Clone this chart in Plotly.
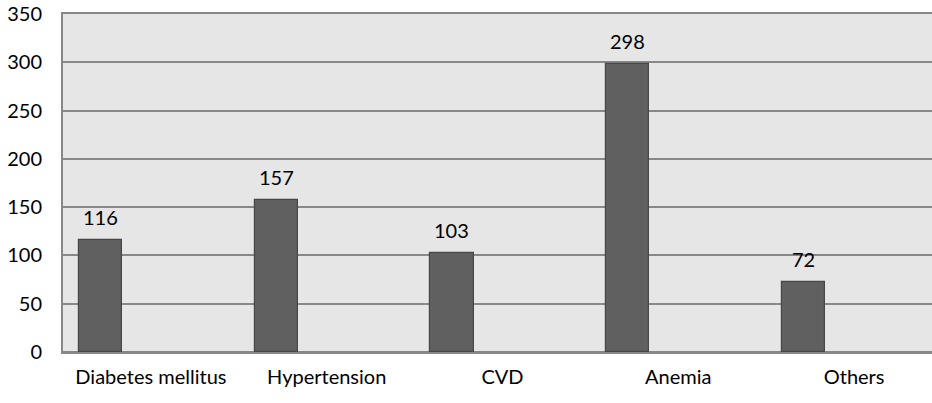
import plotly.graph_objects as go

categories = ["Diabetes mellitus", "Hypertension", "CVD", "Anemia", "Others"]
values = [116, 157, 103, 298, 72]
y_ticks = [0, 50, 100, 150, 200, 250, 300, 350]

font = dict(family="Lato, Open Sans, sans-serif", size=20, color="#000000")

fig = go.Figure(
    go.Bar(
        x=categories,
        y=values,
        width=0.245,
        offset=-0.41,
        marker=dict(color="#606060", line=dict(color="#474747", width=1.2)),
        cliponaxis=False,
    )
)

for c, v in zip(categories, values):
    fig.add_annotation(
        x=c, y=v, text=str(v), showarrow=False,
        xshift=-0.2875 * 175.75, yanchor="bottom", yshift=9, font=font,
    )

fig.update_layout(
    width=932,
    height=403,
    margin=dict(l=63, r=0, t=14, b=51),
    paper_bgcolor="#ffffff",
    plot_bgcolor="#e6e6e6",
    font=font,
    showlegend=False,
    bargap=0,
)
fig.update_xaxes(
    type="category",
    range=[-0.5, 4.443],
    showgrid=False,
    showline=True,
    mirror=True,
    linecolor="#888888",
    linewidth=2,
    ticks="",
    ticklabelstandoff=6,
    tickfont=font,
    automargin=False,
)
fig.update_yaxes(
    range=[0, 350],
    tickvals=y_ticks,
    showgrid=True,
    gridcolor="#888888",
    gridwidth=2,
    zeroline=True,
    zerolinecolor="#888888",
    zerolinewidth=2,
    showline=True,
    linecolor="#888888",
    linewidth=2,
    ticks="",
    ticklabelstandoff=15,
    tickfont=font,
    automargin=False,
)

fig.write_html(
    "out.html",
    config={"displayModeBar": False},
    post_script="document.body.style.margin='0';document.body.style.overflow='hidden';",
)
